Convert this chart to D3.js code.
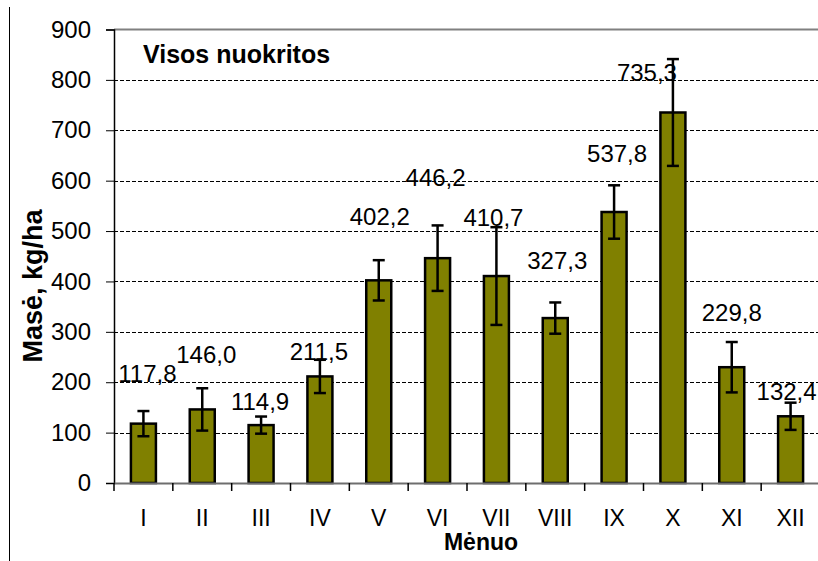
<!DOCTYPE html>
<html lang="lt">
  <head>
    <meta charset="utf-8" />
    <title>Visos nuokritos</title>
    <script src="https://d3js.org/d3.v7.min.js"></script>
    <style>
      html,
      body {
        margin: 0;
        padding: 0;
        background: #fff;
      }
      svg {
        display: block;
        font-family: 'Liberation Sans', Arial, sans-serif;
      }
    </style>
  </head>
  <body>
    <svg></svg>

    <script>
      // Data
      const months = ['I', 'II', 'III', 'IV', 'V', 'VI', 'VII', 'VIII', 'IX', 'X', 'XI', 'XII']
      const mass = [117.8, 146.0, 114.9, 211.5, 402.2, 446.2, 410.7, 327.3, 537.8, 735.3, 229.8, 132.4]
      const errors = [25, 42, 17, 33, 40, 65, 97, 31, 53, 106, 50, 27]
      const yTicks = [0, 100, 200, 300, 400, 500, 600, 700, 800, 900]

      // label placement (value units on y, pixel shift on x) - labels were moved by hand in the original
      const labelAt = [218, 254, 161, 260, 528, 607, 526, 442, 653, 815, 339, 181]
      const labelShift = [4, 4, -1, -1, 1, -2, -3, 2, 3, -26, 0, -4]

      const width = 818,
        height = 561
      const margin = { top: 29.5, right: -2, bottom: 78, left: 114 }

      const svg = d3.select('svg').attr('width', width).attr('height', height)

      const x = d3
        .scaleBand()
        .domain(months)
        .range([margin.left, width - margin.right])
        .padding(0)

      const y = d3
        .scaleLinear()
        .domain([0, 900])
        .range([height - margin.bottom, margin.top])

      const fmt = (v) => v.toFixed(1).replace('.', ',')

      // outer border piece at the left
      svg
        .append('line')
        .attr('x1', 9.5)
        .attr('x2', 9.5)
        .attr('y1', 7)
        .attr('y2', height)
        .attr('stroke', '#000')
        .attr('stroke-width', 1)

      // gridlines
      svg
        .append('g')
        .selectAll('line')
        .data(yTicks.filter((d) => d > 0 && d < 900))
        .join('line')
        .attr('x1', margin.left)
        .attr('x2', width)
        .attr('y1', (d) => Math.round(y(d)) + 0.5)
        .attr('y2', (d) => Math.round(y(d)) + 0.5)
        .attr('stroke', '#000')
        .attr('stroke-width', 1)
        .attr('stroke-dasharray', '4,2')

      // top border of plot area
      svg
        .append('line')
        .attr('x1', margin.left)
        .attr('x2', width)
        .attr('y1', y(900))
        .attr('y2', y(900))
        .attr('stroke', '#808080')
        .attr('stroke-width', 2)

      // y axis
      const yAxis = svg
        .append('g')
        .attr('transform', `translate(${margin.left},0)`)
        .call(d3.axisLeft(y).tickValues(yTicks).tickSize(8).tickPadding(15).tickFormat(d3.format('d')))
      yAxis.select('.domain').attr('stroke', '#000').attr('stroke-width', 1.5)
      yAxis.selectAll('.tick line').attr('stroke', '#000')
      yAxis
        .selectAll('.tick text')
        .attr('font-size', 24)
        .attr('font-family', "'Liberation Sans', Arial, sans-serif")
        .attr('fill', '#000')

      // bars
      const barW = 25
      svg
        .append('g')
        .selectAll('rect')
        .data(mass)
        .join('rect')
        .attr('x', (d, i) => x(months[i]) + x.bandwidth() / 2 - barW / 2)
        .attr('y', (d) => y(d))
        .attr('width', barW)
        .attr('height', (d) => y(0) - y(d))
        .attr('fill', '#808000')
        .attr('stroke', '#000')
        .attr('stroke-width', 2.5)

      // x axis (drawn after bars so it sits on top)
      const xAxis = svg
        .append('g')
        .attr('transform', `translate(0,${y(0)})`)
        .call(d3.axisBottom(x).tickSize(0).tickPadding(27))
      xAxis.select('.domain').attr('stroke', '#6e6e6e').attr('stroke-width', 2)
      xAxis
        .selectAll('.tick text')
        .attr('font-size', 23)
        .attr('font-family', "'Liberation Sans', Arial, sans-serif")
        .attr('fill', '#000')

      // category separator ticks
      svg
        .append('g')
        .selectAll('line')
        .data(months)
        .join('line')
        .attr('x1', (d) => x(d))
        .attr('x2', (d) => x(d))
        .attr('y1', y(0))
        .attr('y2', y(0) + 8)
        .attr('stroke', '#000')
        .attr('stroke-width', 1.5)

      // error bars
      const cap = 6
      const eb = svg
        .append('g')
        .selectAll('g')
        .data(mass)
        .join('g')
        .attr('stroke', '#000')
        .attr('stroke-width', 2.5)
      eb.append('line')
        .attr('x1', (d, i) => x(months[i]) + x.bandwidth() / 2)
        .attr('x2', (d, i) => x(months[i]) + x.bandwidth() / 2)
        .attr('y1', (d, i) => y(d + errors[i]))
        .attr('y2', (d, i) => y(d - errors[i]))
      eb.append('line')
        .attr('x1', (d, i) => x(months[i]) + x.bandwidth() / 2 - cap)
        .attr('x2', (d, i) => x(months[i]) + x.bandwidth() / 2 + cap)
        .attr('y1', (d, i) => y(d + errors[i]))
        .attr('y2', (d, i) => y(d + errors[i]))
      eb.append('line')
        .attr('x1', (d, i) => x(months[i]) + x.bandwidth() / 2 - cap)
        .attr('x2', (d, i) => x(months[i]) + x.bandwidth() / 2 + cap)
        .attr('y1', (d, i) => y(d - errors[i]))
        .attr('y2', (d, i) => y(d - errors[i]))

      // value labels
      svg
        .append('g')
        .selectAll('text')
        .data(mass)
        .join('text')
        .attr('x', (d, i) => x(months[i]) + x.bandwidth() / 2 + labelShift[i])
        .attr('y', (d, i) => y(labelAt[i]))
        .attr('dy', '0.35em')
        .attr('text-anchor', 'middle')
        .attr('font-size', 24)
        .attr('fill', '#000')
        .text((d) => fmt(d))

      // chart title inside plot
      svg
        .append('text')
        .attr('x', 143)
        .attr('y', 63)
        .attr('font-size', 25)
        .attr('font-weight', 'bold')
        .attr('fill', '#000')
        .text('Visos nuokritos')

      // axis titles
      svg
        .append('text')
        .attr('transform', `translate(42,${286}) rotate(-90)`)
        .attr('text-anchor', 'middle')
        .attr('font-size', 27)
        .attr('font-weight', 'bold')
        .attr('fill', '#000')
        .text('Masė, kg/ha')

      svg
        .append('text')
        .attr('x', 481)
        .attr('y', 550)
        .attr('text-anchor', 'middle')
        .attr('font-size', 23)
        .attr('font-weight', 'bold')
        .attr('fill', '#000')
        .text('Mėnuo')
    </script>
  </body>
</html>
